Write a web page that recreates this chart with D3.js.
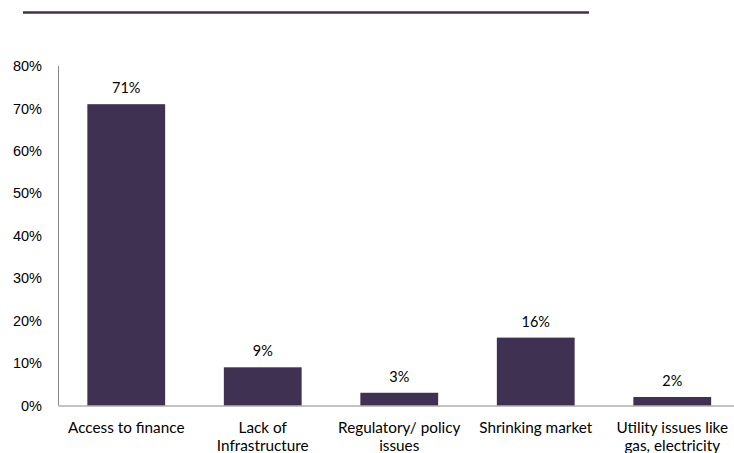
<!DOCTYPE html>
<html><head><meta charset="utf-8">
<script src="https://cdn.jsdelivr.net/npm/d3@7"></script>
<style>body{margin:0;background:#fff}svg{display:block;font-family:Lato,"Open Sans",sans-serif}</style>
</head><body>
<svg id="c" width="734" height="453"></svg>
<script>
const categories = ["Access to finance", "Lack of\nInfrastructure", "Regulatory/ policy\nissues", "Shrinking market", "Utility issues like\ngas, electricity"];
const values = [0.71, 0.09, 0.03, 0.16, 0.02];
const yTicks = [0, 0.1, 0.2, 0.3, 0.4, 0.5, 0.6, 0.7, 0.8];

const svg = d3.select("#c");
const barColor = "#3f3151";
const FS = 14.5;
const x = d3.scaleBand().domain(categories).range([58, 740.5]).paddingInner(0.43).paddingOuter(0.215);
const y = d3.scaleLinear().domain([0, 0.8]).range([405.5, 66]);
const fmt = d3.format(".0%");

// top decorative rule
svg.append("line").attr("x1", 23).attr("x2", 589).attr("y1", 12.5).attr("y2", 12.5)
  .attr("stroke", barColor).attr("stroke-width", 2.5);

// y axis
const ya = svg.append("g").attr("transform", "translate(58,0)")
  .call(d3.axisLeft(y).tickValues(yTicks).tickFormat(fmt).tickSize(0).tickPadding(16));
ya.select(".domain").attr("stroke", "#888").attr("d", `M0.5,${y(0.8)}V${y(0)}`);
ya.selectAll("text").attr("font-size", FS).attr("fill", "#000").attr("font-family", null);

// bars
svg.selectAll("rect.bar").data(values).join("rect").attr("class", "bar")
  .attr("x", (d, i) => x(categories[i])).attr("width", x.bandwidth())
  .attr("y", d => y(d)).attr("height", d => y(0) - y(d)).attr("fill", barColor);

// x axis
const xa = svg.append("g").attr("transform", `translate(0,${y(0)})`)
  .call(d3.axisBottom(x).tickSize(0).tickFormat(""));
xa.select(".domain").attr("stroke", "#888");
xa.attr("font-family", null);
xa.selectAll(".tick").each(function(d) {
  const t = d3.select(this).append("text").attr("fill", "#000").attr("font-size", 15.3)
    .attr("text-anchor", "middle");
  d.split("\n").forEach((ln, k) => t.append("tspan").attr("x", 0).attr("y", 27.5 + k * 18).text(ln));
});

// value labels
svg.selectAll("text.val").data(values).join("text").attr("class", "val")
  .attr("x", (d, i) => x(categories[i]) + x.bandwidth() / 2).attr("y", d => y(d) - 11)
  .attr("text-anchor", "middle").attr("font-size", FS).attr("fill", "#000").text(fmt);
</script>
</body></html>
